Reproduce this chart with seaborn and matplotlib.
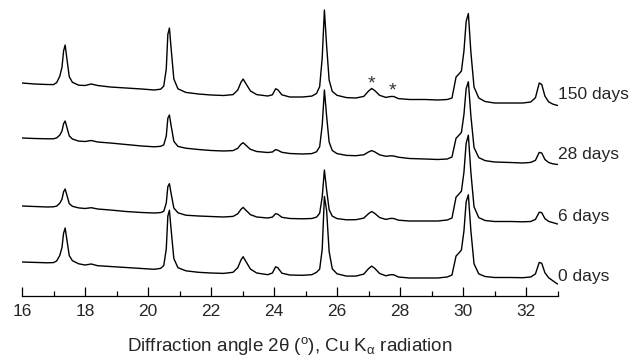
import matplotlib
matplotlib.use("Agg")
import matplotlib.pyplot as plt
from matplotlib.ticker import MultipleLocator
import numpy as np
import pandas as pd
import seaborn as sns

# ---------------- data ----------------
two_theta = [16.0, 16.4, 16.8, 17.0, 17.1, 17.2, 17.27, 17.32, 17.37, 17.42,
             17.5, 17.6, 17.8, 18.0, 18.2, 18.4, 18.8, 19.3, 19.8, 20.2,
             20.4, 20.5, 20.58, 20.63, 20.68, 20.73, 20.82, 20.95, 21.2, 21.6,
             22.0, 22.4, 22.7, 22.85, 22.95, 23.02, 23.1, 23.25, 23.45, 23.8,
             23.95, 24.05, 24.12, 24.25, 24.5, 24.9, 25.2, 25.35, 25.45, 25.53,
             25.6, 25.67, 25.75, 25.85, 26.0, 26.3, 26.6, 26.85, 27.0, 27.1,
             27.2, 27.35, 27.55, 27.7, 27.8, 27.95, 28.3, 28.8, 29.2, 29.5,
             29.65, 29.78, 29.87, 29.95, 30.03, 30.1, 30.17, 30.25, 30.35, 30.5,
             30.7, 31.0, 31.5, 31.9, 32.15, 32.3, 32.42, 32.5, 32.6, 32.72,
             32.85, 33.0]

days_150 = [213, 212, 211.5, 211.4, 213.4, 219.8, 229, 245, 251, 238.5,
            219.3, 213.7, 210.8, 210.5, 212, 210.5, 209, 208, 207, 206,
            206.8, 209.9, 227, 261.7, 268, 249, 217.1, 207.2, 203.6, 202,
            201, 200.5, 201.4, 206, 213.6, 217, 212.8, 205.1, 201.4, 200,
            201.2, 207.2, 206.3, 201.2, 199, 199, 199.9, 202.5, 209.4, 238,
            286, 250.5, 215.9, 204.6, 200.7, 198.4, 198, 199.6, 204.9, 207.5,
            205.4, 200.7, 198.6, 199.5, 199.5, 197.4, 196.5, 196.5, 196, 196.5,
            198, 219, 222, 225, 245, 274.5, 282.5, 244, 209, 198,
            194.5, 193, 193, 193, 194, 198.3, 213, 211.5, 199.9, 194.1,
            191.9, 190.5]

days_28 = [158, 157.5, 157.2, 157.2, 158.1, 160.9, 165, 172.3, 175, 169.3,
           160.1, 157, 154.9, 154.5, 155.5, 154, 153, 151.5, 150, 149.2,
           149.7, 151.1, 160, 177.8, 181, 171.2, 154.7, 149.6, 147.8, 146.5,
           145.5, 145, 145.4, 147.7, 151.7, 153.3, 151, 146.7, 144.5, 143.5,
           144, 146.4, 145.8, 143.7, 142.5, 142, 142.4, 144.2, 149.3, 170.5,
           206, 180, 154, 145.5, 142.4, 140.6, 140.3, 141.2, 144, 145.4,
           144.1, 141.2, 139.7, 140.2, 140, 138.8, 137.5, 137, 136.5, 137,
           139, 157.8, 160.7, 163.6, 181.5, 207.4, 214.3, 180.2, 148.5, 138.4,
           135.4, 134, 133.5, 133, 133.6, 135.7, 143.6, 143, 136.5, 133.5,
           132.2, 131.5]

days_6 = [90, 89.5, 89, 89.2, 89.9, 92.8, 96.9, 104.2, 107, 101.4,
          92.4, 89.7, 88.1, 87.5, 88.3, 87, 86, 84.5, 83.5, 83,
          83.4, 84.7, 93, 109.4, 112.3, 103.2, 88, 83.2, 80.8, 80,
          79.5, 79, 79.6, 82.2, 86.6, 88.6, 86, 81.4, 79, 78,
          78.9, 82.3, 81.8, 78.7, 77.5, 77.2, 77.5, 78.9, 82.7, 99,
          126, 106.2, 86.4, 79.9, 77.4, 76.2, 76.3, 77.9, 82.3, 84.5,
          82.6, 78.5, 76.6, 77.6, 77.5, 75.8, 75, 75, 75, 76,
          78, 98.9, 101.9, 104.9, 123.8, 152.8, 160.8, 123.7, 89.2, 78.4,
          75.5, 74.5, 74.5, 74.2, 74.5, 76.6, 83.8, 83.3, 77.4, 74.6,
          73.4, 72]

days_0 = [34, 33.6, 33.2, 33.4, 35, 40.6, 48.7, 62.7, 68, 57.3,
          40.4, 35.3, 32.2, 31, 32, 30.3, 29.5, 28.5, 27.5, 26.7,
          27.6, 30.4, 47, 79.9, 85.8, 67.7, 37.5, 28.3, 25.2, 23.7,
          23, 22.6, 23.7, 28.3, 35.9, 39.3, 35, 27, 23, 21.3,
          23, 29.2, 28.3, 22.8, 21, 20.7, 21.3, 23.7, 26.9, 46.4,
          99.6, 85.6, 44.5, 27.2, 22.2, 19.9, 19.9, 21.9, 27.3, 29.9,
          27.6, 22.6, 20.2, 21.3, 21.2, 19, 18, 18, 18, 19,
          21, 40, 43, 46, 65, 94.2, 101.2, 65.3, 32.3, 22.1,
          19.5, 18.5, 18.5, 18.3, 19, 22.1, 33.6, 32.7, 23.3, 18.2,
          15.3, 12]

sample_labels = ["150 days", "28 days", "6 days", "0 days"]
label_levels = [201, 142, 79, 19]
marked_peaks = [27.08, 27.75]
marked_levels = [212, 205]
x_ticks_major = [16, 18, 20, 22, 24, 26, 28, 30, 32]
x_label = r"Diffraction angle 2$\theta$ ($^{\mathrm{o}}$), Cu K$_{\alpha}$ radiation"

# ---------------- figure ----------------
sns.set_style("white")
plt.rcParams["font.family"] = ["Liberation Sans", "DejaVu Sans"]
plt.rcParams["mathtext.fontset"] = "custom"
plt.rcParams["mathtext.rm"] = "Liberation Sans"
plt.rcParams["mathtext.it"] = "Liberation Sans"
plt.rcParams["mathtext.bf"] = "Liberation Sans:bold"

series = [days_150, days_28, days_6, days_0]
frames = []
for name, vals in zip(sample_labels, series):
    frames.append(pd.DataFrame({"two_theta": two_theta, "intensity": vals,
                                "sample": name}))
df = pd.concat(frames, ignore_index=True)

fig = plt.figure(figsize=(6.39, 3.62), dpi=100)
ax = fig.add_axes([22 / 639, 66 / 362, 535.5 / 639, 296 / 362])

sns.lineplot(data=df, x="two_theta", y="intensity", units="sample",
             estimator=None, sort=False, color="black", linewidth=1.0,
             legend=False, ax=ax)

FS = 12.5
for lab, lev in zip(sample_labels, label_levels):
    ax.text(33.02, lev, lab, ha="left", va="center", fontsize=FS,
            clip_on=False)

for px, lev in zip(marked_peaks, marked_levels):
    ax.text(px, lev, "*", ha="center", va="center", fontsize=14,
            color="#333333")

ax.set_xlim(16, 33)
ax.set_ylim(0, 296)
ax.set_xticks(x_ticks_major)
ax.xaxis.set_minor_locator(MultipleLocator(1))
ax.set_yticks([])
for s in ["left", "right", "top"]:
    ax.spines[s].set_visible(False)
ax.spines["bottom"].set_linewidth(0.9)
ax.spines["bottom"].set_color("black")
ax.tick_params(axis="x", which="major", direction="in", length=6.5,
               width=0.9, color="black", labelsize=FS, pad=6, bottom=True)
ax.tick_params(axis="x", which="minor", direction="in", length=3.5,
               width=0.9, color="black", bottom=True)
ax.set_xlabel(x_label, fontsize=13.5, labelpad=11)
ax.set_ylabel("")

fig.savefig("out.png", dpi=100)
